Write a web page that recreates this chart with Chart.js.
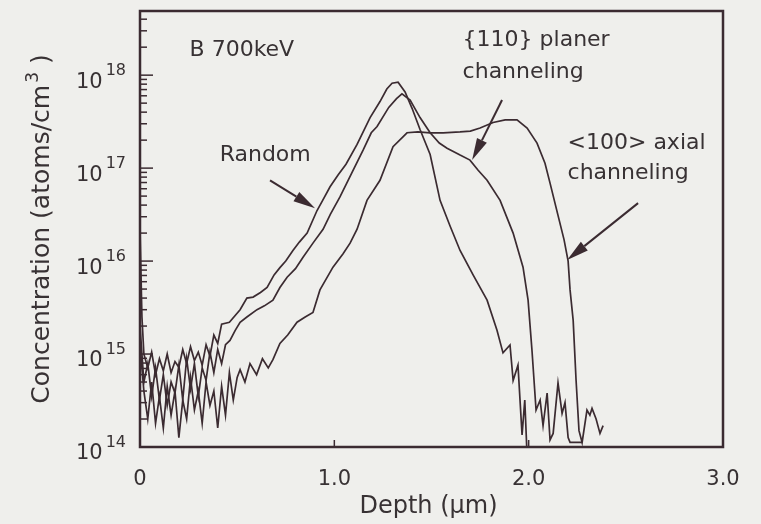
<!DOCTYPE html>
<html lang="en">
<head>
<meta charset="UTF-8" />
<title>B 700keV depth profile</title>
<script src="https://cdn.jsdelivr.net/npm/chart.js"></script>
<style>
  body { margin: 0; background: #efefec; }
  #wrap { width: 761px; height: 524px; }
</style>
</head>
<body>
<div id="wrap"><canvas id="profile" width="761" height="524"></canvas></div>
<script>
// depth in um, concentration in atoms/cm3
const randomDepth = [0, 0.01, 0.02, 0.04, 0.06, 0.08, 0.10, 0.12, 0.14, 0.16, 0.18, 0.20, 0.22, 0.24, 0.26, 0.28, 0.30, 0.32, 0.34, 0.36, 0.38, 0.40, 0.42,
  0.46, 0.515, 0.55, 0.582, 0.62, 0.654, 0.69, 0.72, 0.75, 0.787, 0.82, 0.86, 0.911, 0.94, 0.978, 1.02, 1.06, 1.117, 1.184, 1.235, 1.27, 1.297,
  1.328, 1.364, 1.4, 1.441, 1.493, 1.544, 1.595, 1.647, 1.714, 1.786, 1.837, 1.868, 1.904, 1.92, 1.945, 1.966, 1.98, 1.99];
const randomConc = [2.2e16, 2.5e15, 1.0e15, 7.1e14, 1.05e15, 6.0e14, 8.9e14, 6.6e14, 1.0e15, 6.3e14, 8.3e14, 7.2e14, 1.12e15, 7.9e14, 1.2e15, 8.5e14, 1.05e15, 7.6e14, 1.26e15, 9.5e14, 1.6e15, 1.3e15, 2.1e15,
  2.2e15, 3.0e15, 4.0e15, 4.1e15, 4.6e15, 5.2e15, 7.1e15, 8.5e15, 1.0e16, 1.3e16, 1.6e16, 2.0e16, 3.5e16, 4.5e16, 6.3e16, 8.5e16, 1.1e17, 1.8e17, 3.5e17, 5.2e17, 7.1e17, 8.2e17,
  8.4e17, 6.6e17, 4.4e17, 2.6e17, 1.4e17, 4.5e16, 2.4e16, 1.3e16, 7.1e15, 3.8e15, 1.8e15, 1.03e15, 1.25e15, 5.2e14, 7.6e14, 1.35e14, 3.2e14, 1.0e14];

const planarDepth = [0, 0.02, 0.04, 0.06, 0.08, 0.10, 0.12, 0.14, 0.16, 0.18, 0.20, 0.22, 0.24, 0.26, 0.28, 0.30, 0.32, 0.34, 0.36, 0.38, 0.40, 0.42, 0.44,
  0.463, 0.49, 0.515, 0.55, 0.602, 0.64, 0.684, 0.72, 0.757, 0.80, 0.839, 0.89, 0.942, 0.98, 1.029, 1.09, 1.148, 1.19, 1.22, 1.28,
  1.32, 1.348, 1.39, 1.441, 1.493, 1.54, 1.58, 1.647, 1.698, 1.74, 1.786, 1.853, 1.92, 1.971, 1.997, 2.017, 2.038, 2.059, 2.074, 2.095,
  2.11, 2.126, 2.151, 2.172, 2.187, 2.203, 2.213, 2.275];
const planarConc = [2.0e15, 5.0e14, 7.9e14, 3.5e14, 7.1e14, 3.2e14, 6.0e14, 2.8e14, 5.0e14, 3.8e14, 7.6e14, 3.2e14, 8.9e14, 4.2e14, 7.9e14, 3.5e14, 7.1e14, 5.2e14, 1.05e15, 6.3e14, 1.12e15, 7.9e14, 1.26e15,
  1.4e15, 1.8e15, 2.2e15, 2.5e15, 3.0e15, 3.3e15, 3.8e15, 5.2e15, 6.7e15, 8.3e15, 1.1e16, 1.56e16, 2.2e16, 3.2e16, 4.9e16, 8.9e16, 1.56e17, 2.4e17, 2.8e17, 4.5e17,
  5.6e17, 6.3e17, 5.4e17, 3.5e17, 2.4e17, 1.86e17, 1.64e17, 1.38e17, 1.22e17, 9.5e16, 7.4e16, 4.5e16, 2.0e16, 8.6e15, 3.8e15, 1.1e15, 2.5e14, 3.2e14, 1.7e14, 3.8e14,
  1.19e14, 1.4e14, 4.9e14, 2.3e14, 3.0e14, 1.26e14, 1.12e14, 1.12e14];

const axialDepth = [0, 0.02, 0.04, 0.06, 0.08, 0.10, 0.12, 0.14, 0.16, 0.18, 0.20, 0.22, 0.24, 0.26, 0.28, 0.30, 0.32, 0.34, 0.36, 0.38, 0.40, 0.42, 0.44, 0.46, 0.48, 0.50,
  0.515, 0.54, 0.566, 0.60, 0.63, 0.66, 0.684, 0.72, 0.76, 0.808, 0.85, 0.89, 0.926, 0.993, 1.045, 1.081, 1.117, 1.168, 1.235, 1.302,
  1.374, 1.43, 1.493, 1.56, 1.647, 1.70, 1.75, 1.817, 1.879, 1.94, 1.992, 2.043, 2.084, 2.11, 2.151, 2.182, 2.203, 2.213, 2.229, 2.244,
  2.259, 2.275, 2.30, 2.315, 2.326, 2.347, 2.367, 2.383];
const axialConc = [1.26e15, 4.0e14, 2.0e14, 5.0e14, 1.8e14, 3.5e14, 1.6e14, 4.5e14, 2.2e14, 4.0e14, 1.26e14, 3.2e14, 2.0e14, 5.6e14, 2.5e14, 4.0e14, 1.8e14, 5.0e14, 2.8e14, 4.0e14, 1.6e14, 4.5e14, 2.2e14, 6.3e14, 3.2e14, 5.6e14,
  6.8e14, 5.0e14, 7.9e14, 6.0e14, 8.9e14, 7.1e14, 8.7e14, 1.3e15, 1.6e15, 2.2e15, 2.5e15, 2.8e15, 4.9e15, 8.6e15, 1.2e16, 1.56e16, 2.2e16, 4.5e16, 7.4e16, 1.7e17,
  2.4e17, 2.45e17, 2.4e17, 2.4e17, 2.45e17, 2.5e17, 2.7e17, 3.1e17, 3.3e17, 3.3e17, 2.7e17, 1.86e17, 1.13e17, 6.9e16, 3.1e16, 1.7e16, 1.0e16, 4.9e15, 2.3e15, 5.2e14,
  1.5e14, 1.12e14, 2.5e14, 2.2e14, 2.6e14, 2.0e14, 1.4e14, 1.7e14];

const depthTicks = [0, 1, 2, 3];
const decades = [14, 15, 16, 17, 18];

// labels and arrows placed in data units
const notes = [
  { text: 'B 700keV', x: 0.255, y: 1.86e18 },
  { text: 'Random', x: 0.41, y: 1.38e17 },
  { text: '{110} planer', x: 1.66, y: 2.38e18 },
  { text: 'channeling', x: 1.66, y: 1.08e18 },
  { text: '<100> axial', x: 2.2, y: 1.86e17 },
  { text: 'channeling', x: 2.2, y: 8.8e16 }
];
const arrows = [
  { from: [0.669, 7.4e16], to: [0.901, 3.7e16] },
  { from: [1.863, 5.4e17], to: [1.709, 1.22e17] },
  { from: [2.563, 4.2e16], to: [2.198, 1.03e16] }
];

const INK = '#3b2b31';
const TEXT = '#383234';
const FONT = "'DejaVu Sans', sans-serif";

function zip(xs, ys) {
  return xs.map((x, i) => ({ x, y: ys[i] }));
}

function drawArrow(ctx, x0, y0, x1, y1) {
  const ang = Math.atan2(y1 - y0, x1 - x0);
  const hl = 22, hw = 5.5;
  const bx = x1 - hl * Math.cos(ang), by = y1 - hl * Math.sin(ang);
  ctx.beginPath();
  ctx.moveTo(x0, y0);
  ctx.lineTo(bx, by);
  ctx.stroke();
  ctx.beginPath();
  ctx.moveTo(x1, y1);
  ctx.lineTo(bx + hw * Math.sin(ang), by - hw * Math.cos(ang));
  ctx.lineTo(bx - hw * Math.sin(ang), by + hw * Math.cos(ang));
  ctx.closePath();
  ctx.fill();
}

const decorations = {
  id: 'decorations',
  afterDraw(chart) {
    const { ctx, chartArea: a, scales: { x, y } } = chart;
    ctx.save();
    ctx.strokeStyle = INK;
    ctx.fillStyle = TEXT;

    // frame
    ctx.lineWidth = 2.5;
    ctx.strokeRect(a.left, a.top, a.right - a.left, a.bottom - a.top);

    // y ticks (inward), labels 10^n
    ctx.lineWidth = 1.5;
    decades.forEach(e => {
      for (let m = 1; m <= 9; m++) {
        const v = m * Math.pow(10, e);
        if (v > y.max) break;
        const py = y.getPixelForValue(v);
        ctx.beginPath();
        ctx.moveTo(a.left, py);
        ctx.lineTo(a.left + (m === 1 ? 13 : 7), py);
        ctx.stroke();
      }
      const py = y.getPixelForValue(Math.pow(10, e));
      ctx.textBaseline = 'middle';
      ctx.textAlign = 'right';
      ctx.font = '16px ' + FONT;
      const sup = String(e);
      const sw = ctx.measureText(sup).width;
      ctx.fillText(sup, 126, py - 4);
      ctx.font = '21px ' + FONT;
      ctx.fillText('10', 126 - sw - 3, py + 7);
    });

    // x ticks (inward)
    depthTicks.forEach(d => {
      const px = x.getPixelForValue(d);
      ctx.beginPath();
      ctx.moveTo(px, a.bottom);
      ctx.lineTo(px, a.bottom - 7);
      ctx.stroke();
    });

    // axis titles
    ctx.font = '24px ' + FONT;
    ctx.textAlign = 'center';
    ctx.textBaseline = 'middle';
    ctx.fillText('Depth (\u00b5m)', (a.left + a.right) / 2 - 3, 507);

    ctx.save();
    ctx.translate(42, (a.top + a.bottom) / 2);
    ctx.rotate(-Math.PI / 2);
    ctx.textAlign = 'left';
    ctx.font = '25px ' + FONT;
    const t1 = 'Concentration (atoms/cm', t3 = ' )';
    const w1 = ctx.measureText(t1).width, w3 = ctx.measureText(t3).width;
    ctx.font = '17px ' + FONT;
    const w2 = ctx.measureText('3').width + 2;
    let sx = -(w1 + w2 + w3) / 2;
    ctx.font = '25px ' + FONT;
    ctx.fillText(t1, sx, 0);
    ctx.font = '17px ' + FONT;
    ctx.fillText('3', sx + w1 + 2, -8);
    ctx.font = '25px ' + FONT;
    ctx.fillText(t3, sx + w1 + w2, 0);
    ctx.restore();

    // annotations
    ctx.font = '22px ' + FONT;
    ctx.textAlign = 'left';
    ctx.textBaseline = 'middle';
    notes.forEach(n => {
      ctx.fillText(n.text, x.getPixelForValue(n.x), y.getPixelForValue(n.y));
    });
    ctx.lineWidth = 2;
    ctx.fillStyle = INK;
    arrows.forEach(r => {
      drawArrow(ctx,
        x.getPixelForValue(r.from[0]), y.getPixelForValue(r.from[1]),
        x.getPixelForValue(r.to[0]), y.getPixelForValue(r.to[1]));
    });
    ctx.restore();
  }
};

const lineStyle = { borderColor: INK, borderWidth: 1.7, pointRadius: 0, showLine: true, tension: 0, fill: false };

new Chart(document.getElementById('profile'), {
  type: 'scatter',
  data: {
    datasets: [
      { label: 'Random', data: zip(randomDepth, randomConc), ...lineStyle },
      { label: '{110} planer channeling', data: zip(planarDepth, planarConc), ...lineStyle },
      { label: '<100> axial channeling', data: zip(axialDepth, axialConc), ...lineStyle }
    ]
  },
  options: {
    responsive: false,
    animation: false,
    layout: { padding: { top: 11, right: 38, left: 0, bottom: 0 } },
    plugins: { legend: { display: false }, tooltip: { enabled: false } },
    scales: {
      x: {
        type: 'linear', min: 0, max: 3,
        grid: { display: false, drawTicks: false },
        border: { display: false },
        ticks: {
          stepSize: 1, color: TEXT, padding: 20,
          font: { family: FONT, size: 21 },
          callback: v => v === 0 ? '0' : v.toFixed(1)
        },
        afterFit: s => { s.height = 77; }
      },
      y: {
        type: 'logarithmic', min: 1e14, max: 4.9e18,
        grid: { display: false, drawTicks: false },
        border: { display: false },
        ticks: { display: false, autoSkip: false },
        afterFit: s => { s.width = 140; }
      }
    }
  },
  plugins: [decorations]
});
</script>
</body>
</html>
